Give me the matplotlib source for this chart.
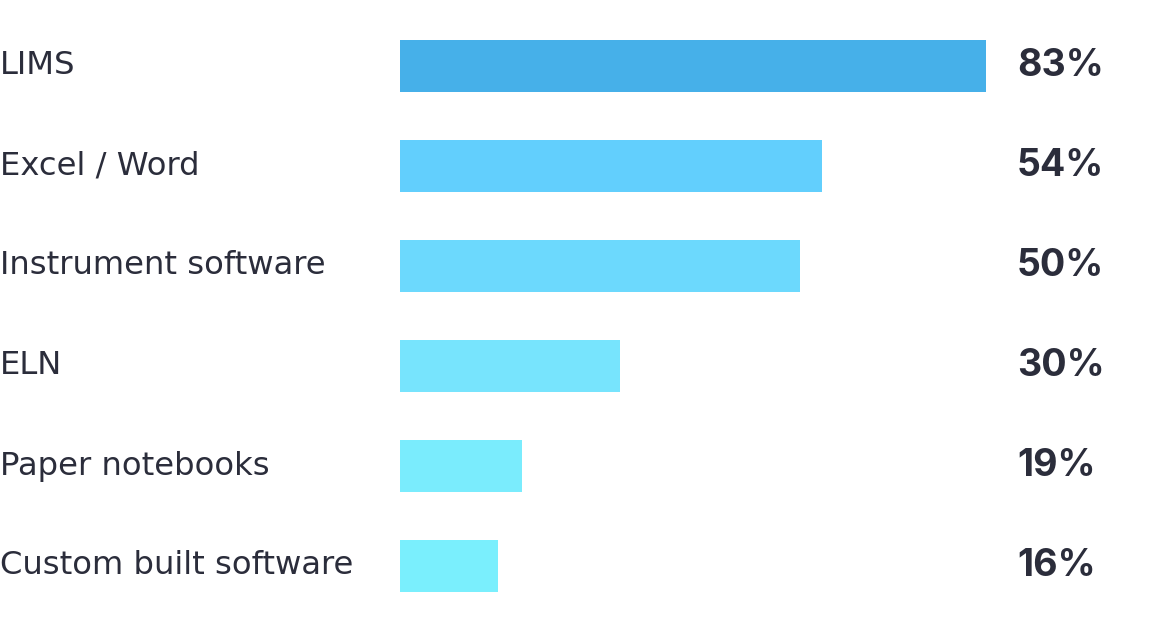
import matplotlib
matplotlib.use("Agg")
import matplotlib.pyplot as plt
from matplotlib.transforms import blended_transform_factory

# data
categories = ["LIMS", "Excel / Word", "Instrument software", "ELN",
              "Paper notebooks", "Custom built software"]
pct_labels = [83, 54, 50, 30, 19, 16]
# drawn bar lengths (not proportional to the labels in the source)
bar_len = [83.0, 59.8, 56.7, 31.2, 17.3, 13.9]
colors = ["#46B0E9", "#62CFFD", "#6CD9FD", "#77E4FD", "#7AECFD", "#7AEFFD"]

W, H = 1168, 636
PX_PER_UNIT = 586 / 83.0
TEXT = "#2B2D3B"

fig = plt.figure(figsize=(W / 100, H / 100), dpi=100)
ax = fig.add_axes([400 / W, 0, 1 - 400 / W, 1])
ax.set_xlim(0, (W - 400) / PX_PER_UNIT)
ax.set_ylim(5.70, -0.66)
ax.axis("off")

ys = list(range(len(categories)))
ax.barh(ys, bar_len, height=0.52, color=colors, left=0)

trans = blended_transform_factory(fig.transFigure, ax.transData)
for y, cat, p in zip(ys, categories, pct_labels):
    ax.text(0.0, y, cat, transform=trans, ha="left", va="center",
            fontsize=23.2, color=TEXT, family="DejaVu Sans")
    ax.text(1017 / W, y, f"{p}%", transform=trans, ha="left", va="center",
            fontsize=27, color=TEXT, family="Inter", fontweight="bold")

fig.savefig("out.png", dpi=100)
